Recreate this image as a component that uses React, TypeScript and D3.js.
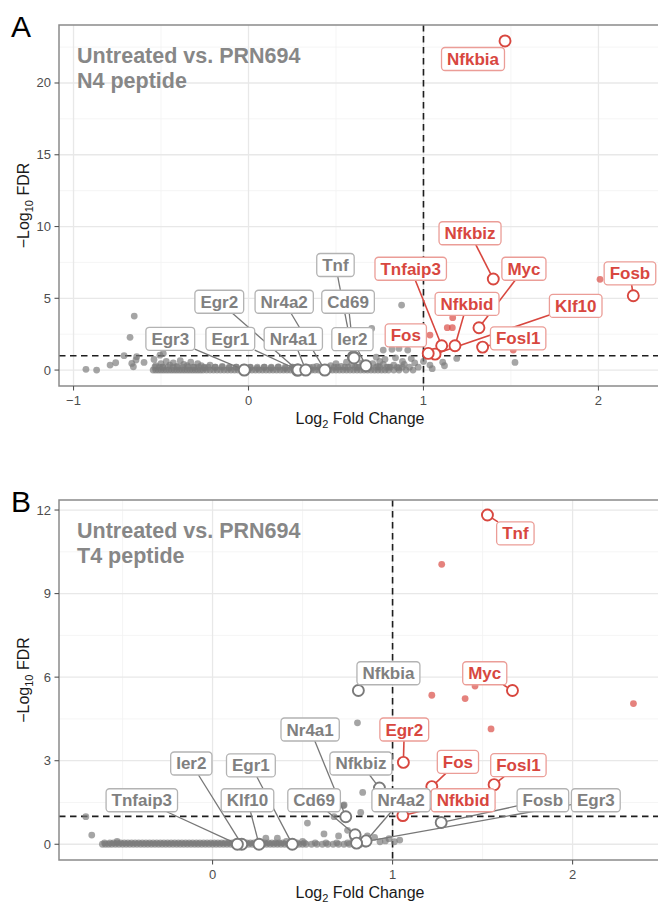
import React, { useEffect, useRef } from "react";
import * as d3 from "d3";

// ---------- panel A : N4 peptide ----------
const A_BAND_X = [-0.545, -0.53, -0.515, -0.5, -0.485, -0.47, -0.455, -0.44, -0.425, -0.41, -0.395, -0.38, -0.365, -0.35, -0.335, -0.32, -0.305, -0.29, -0.275, -0.26, -0.24, -0.22, -0.2, -0.18, -0.16, -0.14, -0.12, -0.1, -0.08, -0.06, -0.04, -0.02, 0.0, 0.02, 0.04, 0.06, 0.08, 0.1, 0.12, 0.14, 0.16, 0.18, 0.2, 0.22, 0.24, 0.26, 0.28, 0.3, 0.32, 0.34, 0.36, 0.38, 0.4, 0.42, 0.44, 0.46, 0.48, 0.5, 0.52, 0.54, 0.56, 0.58, 0.6, 0.62, 0.64, 0.66, 0.68, 0.7, 0.72, 0.74, 0.76, 0.78, 0.8, 0.83, 0.86, 0.9, 0.94];
// second, slightly raised row of the dense non-significant band
const A_BAND2_X = [-0.535, -0.51, -0.49, -0.46, -0.43, -0.405, -0.375, -0.345, -0.315, -0.285, -0.255, -0.23, -0.19, -0.15, -0.11, -0.07, -0.03, 0.01, 0.05, 0.09, 0.13, 0.17, 0.21, 0.25, 0.29, 0.33, 0.37, 0.41, 0.45, 0.49, 0.51, 0.55, 0.57, 0.61, 0.63, 0.67, 0.69, 0.73, 0.75, 0.79, 0.81, 0.85, 0.88];
const A_GRAY: [number, number][] = [
  [-0.929, 0.05], [-0.868, 0], [-0.791, 0.35], [-0.759, 0.51], [-0.711, 1.0], [-0.677, 2.28], [-0.653, 3.76],
  [-0.667, 0.46], [-0.658, 0.23], [-0.643, 0.7], [-0.639, 0.93], [-0.597, 0.53], [-0.54, 0.74], [-0.506, 1.04], [-0.487, 1.16],
  [-0.53, 0.3], [-0.5, 0.45], [-0.49, 0.2], [-0.47, 0.6], [-0.45, 0.35], [-0.43, 0.5], [-0.41, 0.25], [-0.39, 0.65],
  [-0.37, 0.4], [-0.35, 0.3], [-0.33, 0.55], [-0.31, 0.2], [-0.29, 0.45], [-0.27, 0.3], [-0.25, 0.15], [-0.22, 0.35],
  [-0.19, 0.2], [-0.15, 0.25], [-0.11, 0.15], [-0.07, 0.2], [-0.03, 0.12], [0.01, 0.18], [0.05, 0.12], [0.09, 0.2],
  [0.13, 0.15], [0.17, 0.22], [0.21, 0.12], [0.25, 0.2], [0.35, 0.18], [0.39, 0.25], [0.47, 0.3], [0.5, 0.45],
  [0.53, 0.25], [0.56, 0.55], [0.59, 0.35], [0.62, 0.2], [0.65, 0.5], [0.68, 0.3], [0.71, 0.45], [0.74, 0.25],
  [0.77, 0.4], [0.8, 0.2], [0.83, 0.35], [0.86, 0.15], [0.89, 0.4], [0.92, 0.2],
  [0.875, 4.53], [0.704, 2.9], [0.77, 1.39], [0.82, 1.45], [0.86, 1.51], [0.91, 1.39], [1.523, 0.53], [1.19, 0.81],
  [1.11, 0.55], [1.12, 0.3], [1.037, 0.35], [0.73, 0.9], [0.75, 0.6], [0.78, 0.75], [0.84, 0.85], [0.88, 0.6],
  [0.93, 0.8], [0.95, 0.5], [0.97, 0.2], [1.0, 0.6], [1.05, 0.1],
];
const A_RED: [number, number][] = [[2.009, 6.32], [1.167, 3.65], [1.136, 2.95], [1.165, 2.95], [1.037, 2.44], [1.513, 1.39]];
const A_GENES = ["Nfkbia", "Nfkbiz", "Myc", "Nfkbid", "Tnfaip3", "Klf10", "Fos", "Fosl1", "Fosb", "Tnf", "Cd69", "Ier2", "Egr3", "Egr2", "Egr1", "Nr4a1", "Nr4a2"];
const A_GENE_FC = [1.466, 1.399, 1.317, 1.18, 1.104, 1.066, 1.027, 1.338, 2.199, 0.599, 0.603, 0.671, -0.024, 0.279, 0.283, 0.327, 0.436];
const A_GENE_FDR = [22.93, 6.34, 2.95, 1.69, 1.69, 1.11, 1.16, 1.6, 5.18, 0.93, 0.84, 0.3, 0, 0, 0, 0, 0];
const A_LABEL_AT: [number, number][] = [
  [1.283, 21.67], [1.266, 9.53], [1.574, 7.06], [1.249, 4.61], [0.927, 7.06], [1.87, 4.47], [0.899, 2.42], [1.541, 2.21],
  [2.18, 6.74], [0.497, 7.32], [0.569, 4.76], [0.594, 2.15], [-0.447, 2.18], [-0.167, 4.76], [-0.104, 2.18], [0.256, 2.18], [0.204, 4.76],
];

// ---------- panel B : T4 peptide ----------
const B_BAND_X = [-0.612, -0.595, -0.578, -0.56, -0.54, -0.52, -0.5, -0.48, -0.46, -0.44, -0.42, -0.4, -0.38, -0.36, -0.34, -0.32, -0.3, -0.28, -0.26, -0.24, -0.22, -0.2, -0.18, -0.16, -0.14, -0.12, -0.1, -0.08, -0.06, -0.04, -0.02, 0.0, 0.02, 0.04, 0.06, 0.08, 0.1, 0.12, 0.14, 0.16, 0.18, 0.2, 0.22, 0.24, 0.26, 0.28, 0.3, 0.32, 0.34, 0.36, 0.38, 0.4, 0.42, 0.44, 0.46, 0.48, 0.5, 0.52, 0.55, 0.58, 0.61, 0.64, 0.67, 0.7, 0.73, 0.76, 0.79, 0.82, 0.85];
const B_BAND2_X = [-0.6, -0.57, -0.55, -0.53, -0.51, -0.49, -0.47, -0.45, -0.43, -0.41, -0.39, -0.37, -0.35, -0.33, -0.31, -0.29, -0.27, -0.25, -0.23, -0.21, -0.19, -0.17, -0.15, -0.13, -0.11, -0.09, -0.07, -0.05, -0.03, -0.01, 0.01, 0.03, 0.05, 0.07, 0.09, 0.11, 0.13, 0.15, 0.17, 0.19, 0.21, 0.23, 0.25, 0.27, 0.29, 0.31, 0.33, 0.35, 0.37, 0.39, 0.43, 0.47, 0.51, 0.57, 0.63, 0.69, 0.75];
const B_GRAY: [number, number][] = [
  [-0.704, 0.99], [-0.671, 0.33], [0.527, 0.76], [0.619, 0.37], [0.675, 0.99], [0.731, 1.41], [0.805, 4.36], [0.834, 1.86],
  [0.727, 1.39], [0.823, 1.14], [0.296, 0.22], [0.36, 0.22], [-0.53, 0.1], [0.93, 0.09], [1.04, 0.15], [1.01, 0.09],
  [0.41, 0.1], [0.5, 0.1], [0.7, 0.3], [0.75, 0.5], [0.78, 0.2], [0.86, 0.3], [0.9, 0.25], [0.96, 0.12], [0.98, 0.2],
];
const B_RED: [number, number][] = [[1.273, 10.05], [1.218, 5.35], [1.403, 5.23], [1.458, 5.68], [1.547, 4.14], [2.338, 5.05]];
const B_GENES = ["Tnf", "Myc", "Egr2", "Fos", "Fosl1", "Nfkbid", "Nfkbia", "Nfkbiz", "Nr4a1", "Cd69", "Nr4a2", "Egr3", "Fosb", "Ier2", "Tnfaip3", "Klf10", "Egr1"];
const B_GENE_FC = [1.527, 1.666, 1.06, 1.218, 1.564, 1.057, 0.81, 0.927, 0.74, 0.792, 0.853, 0.8, 1.27, 0.162, 0.138, 0.258, 0.443];
const B_GENE_FDR = [11.82, 5.52, 2.94, 2.07, 2.14, 1.03, 5.52, 2.02, 0.99, 0.34, 0.12, 0.04, 0.78, 0, 0, 0, 0];
const B_LABEL_AT: [number, number][] = [
  [1.682, 11.16], [1.512, 6.14], [1.065, 4.12], [1.363, 2.96], [1.699, 2.84], [1.392, 1.58], [0.977, 6.14], [0.824, 2.9],
  [0.542, 4.12], [0.564, 1.58], [1.047, 1.58], [2.129, 1.58], [1.835, 1.58], [-0.118, 2.9], [-0.393, 1.58], [0.194, 1.58], [0.213, 2.83],
];

const RED = "#d8473f";
const FONT = "'Liberation Sans', Arial, Helvetica, sans-serif";

type Panel = {
  letter: string; subtitle: string; top: number; bottom: number; left: number; right: number;
  xDomain: [number, number]; yDomain: [number, number];
  xTicks: number[]; xMinor: number[]; yTicks: number[]; yMinor: number[];
  band: number[]; band2: number[]; band2y: number; gray: [number, number][]; red: [number, number][];
  genes: string[]; fc: number[]; fdr: number[]; labelAt: [number, number][];
};

const PANELS: Panel[] = [
  {
    letter: "A", subtitle: "N4 peptide", top: 25, bottom: 386, left: 59, right: 659,
    xDomain: [-1.083, 2.346], yDomain: [-1.11, 24.04],
    xTicks: [-1, 0, 1, 2], xMinor: [-0.5, 0.5, 1.5], yTicks: [0, 5, 10, 15, 20], yMinor: [2.5, 7.5, 12.5, 17.5, 22.5],
    band: A_BAND_X, band2: A_BAND2_X, band2y: 0.2, gray: A_GRAY, red: A_RED,
    genes: A_GENES, fc: A_GENE_FC, fdr: A_GENE_FDR, labelAt: A_LABEL_AT,
  },
  {
    letter: "B", subtitle: "T4 peptide", top: 500, bottom: 860, left: 59, right: 659,
    xDomain: [-0.853, 2.48], yDomain: [-0.565, 12.36],
    xTicks: [0, 1, 2], xMinor: [-0.5, 0.5, 1.5], yTicks: [0, 3, 6, 9, 12], yMinor: [1.5, 4.5, 7.5, 10.5],
    band: B_BAND_X, band2: B_BAND2_X, band2y: 0.05, gray: B_GRAY, red: B_RED,
    genes: B_GENES, fc: B_GENE_FC, fdr: B_GENE_FDR, labelAt: B_LABEL_AT,
  },
];

function drawPanel(svg: d3.Selection<SVGSVGElement, unknown, null, undefined>, p: Panel) {
  const x = d3.scaleLinear().domain(p.xDomain).range([p.left, p.right]);
  const y = d3.scaleLinear().domain(p.yDomain).range([p.bottom, p.top]);
  const g = svg.append("g");
  const clipId = "clip" + p.letter;
  svg.append("clipPath").attr("id", clipId).append("rect")
    .attr("x", p.left).attr("y", p.top).attr("width", p.right - p.left).attr("height", p.bottom - p.top);

  // grid
  const grid = g.append("g");
  const gl = (vals: number[], vertical: boolean, color: string, w: number) =>
    grid.append("g").selectAll("line").data(vals).join("line")
      .attr("x1", (d) => (vertical ? x(d) : p.left)).attr("x2", (d) => (vertical ? x(d) : p.right))
      .attr("y1", (d) => (vertical ? p.top : y(d))).attr("y2", (d) => (vertical ? p.bottom : y(d)))
      .attr("stroke", color).attr("stroke-width", w);
  gl(p.xMinor, true, "#f2f2f2", 0.8);
  gl(p.yMinor, false, "#f2f2f2", 0.8);
  gl(p.xTicks, true, "#e8e8e8", 1.3);
  gl(p.yTicks, false, "#e8e8e8", 1.3);

  // subtitle
  const t = g.append("text").attr("font-family", FONT).attr("font-weight", "bold").attr("font-size", 21.5).attr("fill", "#878787");
  t.append("tspan").attr("x", p.left + 18).attr("y", p.top + 38).text("Untreated vs. PRN694");
  t.append("tspan").attr("x", p.left + 18).attr("y", p.top + 63).text(p.subtitle);

  const plot = g.append("g").attr("clip-path", `url(#${clipId})`);

  // threshold lines
  plot.append("line").attr("x1", x(1)).attr("x2", x(1)).attr("y1", p.top).attr("y2", p.bottom)
    .attr("stroke", "#1e1e1e").attr("stroke-width", 1.6).attr("stroke-dasharray", "6.5,4.5");
  plot.append("line").attr("x1", p.left).attr("x2", p.right).attr("y1", y(1)).attr("y2", y(1))
    .attr("stroke", "#1e1e1e").attr("stroke-width", 1.6).attr("stroke-dasharray", "6.5,4.5");

  // unlabelled points
  const dot = (sel: d3.Selection<SVGGElement, unknown, null, undefined>, data: [number, number][], color: string) =>
    sel.selectAll("circle").data(data).join("circle")
      .attr("cx", (d) => x(d[0])).attr("cy", (d) => y(d[1])).attr("r", 3.4)
      .attr("fill", color).attr("fill-opacity", 0.68);
  dot(plot.append("g"), p.band.map((v) => [v, 0] as [number, number]), "#7a7a7a");
  dot(plot.append("g"), p.band2.map((v) => [v, p.band2y] as [number, number]), "#7a7a7a");
  dot(plot.append("g"), p.gray, "#7a7a7a");
  dot(plot.append("g"), p.red, RED);

  // labelled genes
  const hits = p.genes.map((gene, i) => ({
    gene, px: x(p.fc[i]), py: y(p.fdr[i]), cx: x(p.labelAt[i][0]), cy: y(p.labelAt[i][1]),
    up: p.fc[i] > 1 && p.fdr[i] > 1,
  }));
  const segG = g.append("g");
  const circG = g.append("g");
  const labG = g.append("g");

  const labels = labG.selectAll("g").data(hits).join("g");
  labels.append("rect");
  labels.append("text")
    .attr("font-family", FONT).attr("font-weight", "bold").attr("font-size", 17)
    .attr("text-anchor", "middle").attr("x", (d) => d.cx).attr("y", (d) => d.cy + 6)
    .attr("fill", (d) => (d.up ? RED : "#808080")).text((d) => d.gene);
  const sizes: number[] = [];
  labels.select("text").each(function () { sizes.push((this as SVGTextElement).getComputedTextLength()); });
  const R = 5.5;
  const hh = 11.5;
  labels.select("rect")
    .attr("x", (d, i) => d.cx - sizes[i] / 2 - 5.5).attr("y", (d) => d.cy - hh)
    .attr("width", (d, i) => sizes[i] + 11).attr("height", hh * 2).attr("rx", 3.5)
    .attr("fill", "white").attr("stroke", (d) => (d.up ? "#eb9d97" : "#b3b3b3")).attr("stroke-width", 1.3);

  hits.forEach((d, i) => {
    const hw = sizes[i] / 2 + 5.5;
    const dx = d.px - d.cx, dy = d.py - d.cy;
    const nx = Math.max(d.cx - hw, Math.min(d.cx + hw, d.px));
    const ny = Math.max(d.cy - hh, Math.min(d.cy + hh, d.py));
    const gap = Math.hypot(d.px - nx, d.py - ny) - R;
    if (gap < 2) return;
    const tt = Math.min(Math.abs(dx) > 0 ? hw / Math.abs(dx) : 1e9, Math.abs(dy) > 0 ? hh / Math.abs(dy) : 1e9);
    const len = Math.hypot(dx, dy);
    segG.append("line")
      .attr("x1", d.cx + dx * tt).attr("y1", d.cy + dy * tt)
      .attr("x2", d.px - (dx / len) * R).attr("y2", d.py - (dy / len) * R)
      .attr("stroke", d.up ? RED : "#777").attr("stroke-width", d.up ? 1.6 : 1.3);
  });
  circG.selectAll("circle").data(hits).join("circle")
    .attr("cx", (d) => d.px).attr("cy", (d) => d.py).attr("r", R)
    .attr("fill", "white").attr("stroke", (d) => (d.up ? RED : "#7a7a7a")).attr("stroke-width", 1.9);

  // border
  g.append("rect").attr("x", p.left).attr("y", p.top).attr("width", p.right - p.left).attr("height", p.bottom - p.top)
    .attr("fill", "none").attr("stroke", "#8a8a8a").attr("stroke-width", 1.5);

  // axes
  const ax = g.append("g").attr("font-family", FONT).attr("font-size", 13).attr("fill", "#4d4d4d");
  ax.selectAll(".xt").data(p.xTicks).join("line").attr("class", "xt")
    .attr("x1", (d) => x(d)).attr("x2", (d) => x(d)).attr("y1", p.bottom).attr("y2", p.bottom + 4.5)
    .attr("stroke", "#555").attr("stroke-width", 1.1);
  ax.selectAll(".xl").data(p.xTicks).join("text").attr("class", "xl")
    .attr("x", (d) => x(d)).attr("y", p.bottom + 19).attr("text-anchor", "middle")
    .text((d) => (d < 0 ? "\u2212" + Math.abs(d) : String(d)));
  ax.selectAll(".yt").data(p.yTicks).join("line").attr("class", "yt")
    .attr("x1", p.left - 4.5).attr("x2", p.left).attr("y1", (d) => y(d)).attr("y2", (d) => y(d))
    .attr("stroke", "#555").attr("stroke-width", 1.1);
  ax.selectAll(".yl").data(p.yTicks).join("text").attr("class", "yl")
    .attr("x", p.left - 8).attr("y", (d) => y(d) + 4.5).attr("text-anchor", "end").text((d) => String(d));

  // axis titles
  const xt = g.append("text").attr("font-family", FONT).attr("font-size", 16).attr("fill", "#1a1a1a")
    .attr("text-anchor", "middle").attr("x", 360).attr("y", p.bottom + 38);
  xt.append("tspan").text("Log");
  xt.append("tspan").attr("font-size", 11).attr("dy", 4).text("2");
  xt.append("tspan").attr("dy", -4).text(" Fold Change");
  const yt = g.append("text").attr("font-family", FONT).attr("font-size", 16).attr("fill", "#1a1a1a")
    .attr("text-anchor", "middle")
    .attr("transform", `translate(29,${(p.top + p.bottom) / 2}) rotate(-90)`);
  yt.append("tspan").text("\u2212Log");
  yt.append("tspan").attr("font-size", 11).attr("dy", 4).text("10");
  yt.append("tspan").attr("dy", -4).text(" FDR");

  // panel letter
  g.append("text").attr("font-family", FONT).attr("font-size", 30).attr("fill", "#000")
    .attr("x", 11).attr("y", p.top + 12).text(p.letter);
}

export default function App() {
  const ref = useRef<SVGSVGElement>(null);
  useEffect(() => {
    const svg = d3.select(ref.current!);
    svg.selectAll("*").remove();
    PANELS.forEach((p) => drawPanel(svg, p));
  }, []);
  return (
    <svg ref={ref} width={658} height={903}
      style={{ position: "absolute", left: 0, top: 0, background: "white" }} />
  );
}
